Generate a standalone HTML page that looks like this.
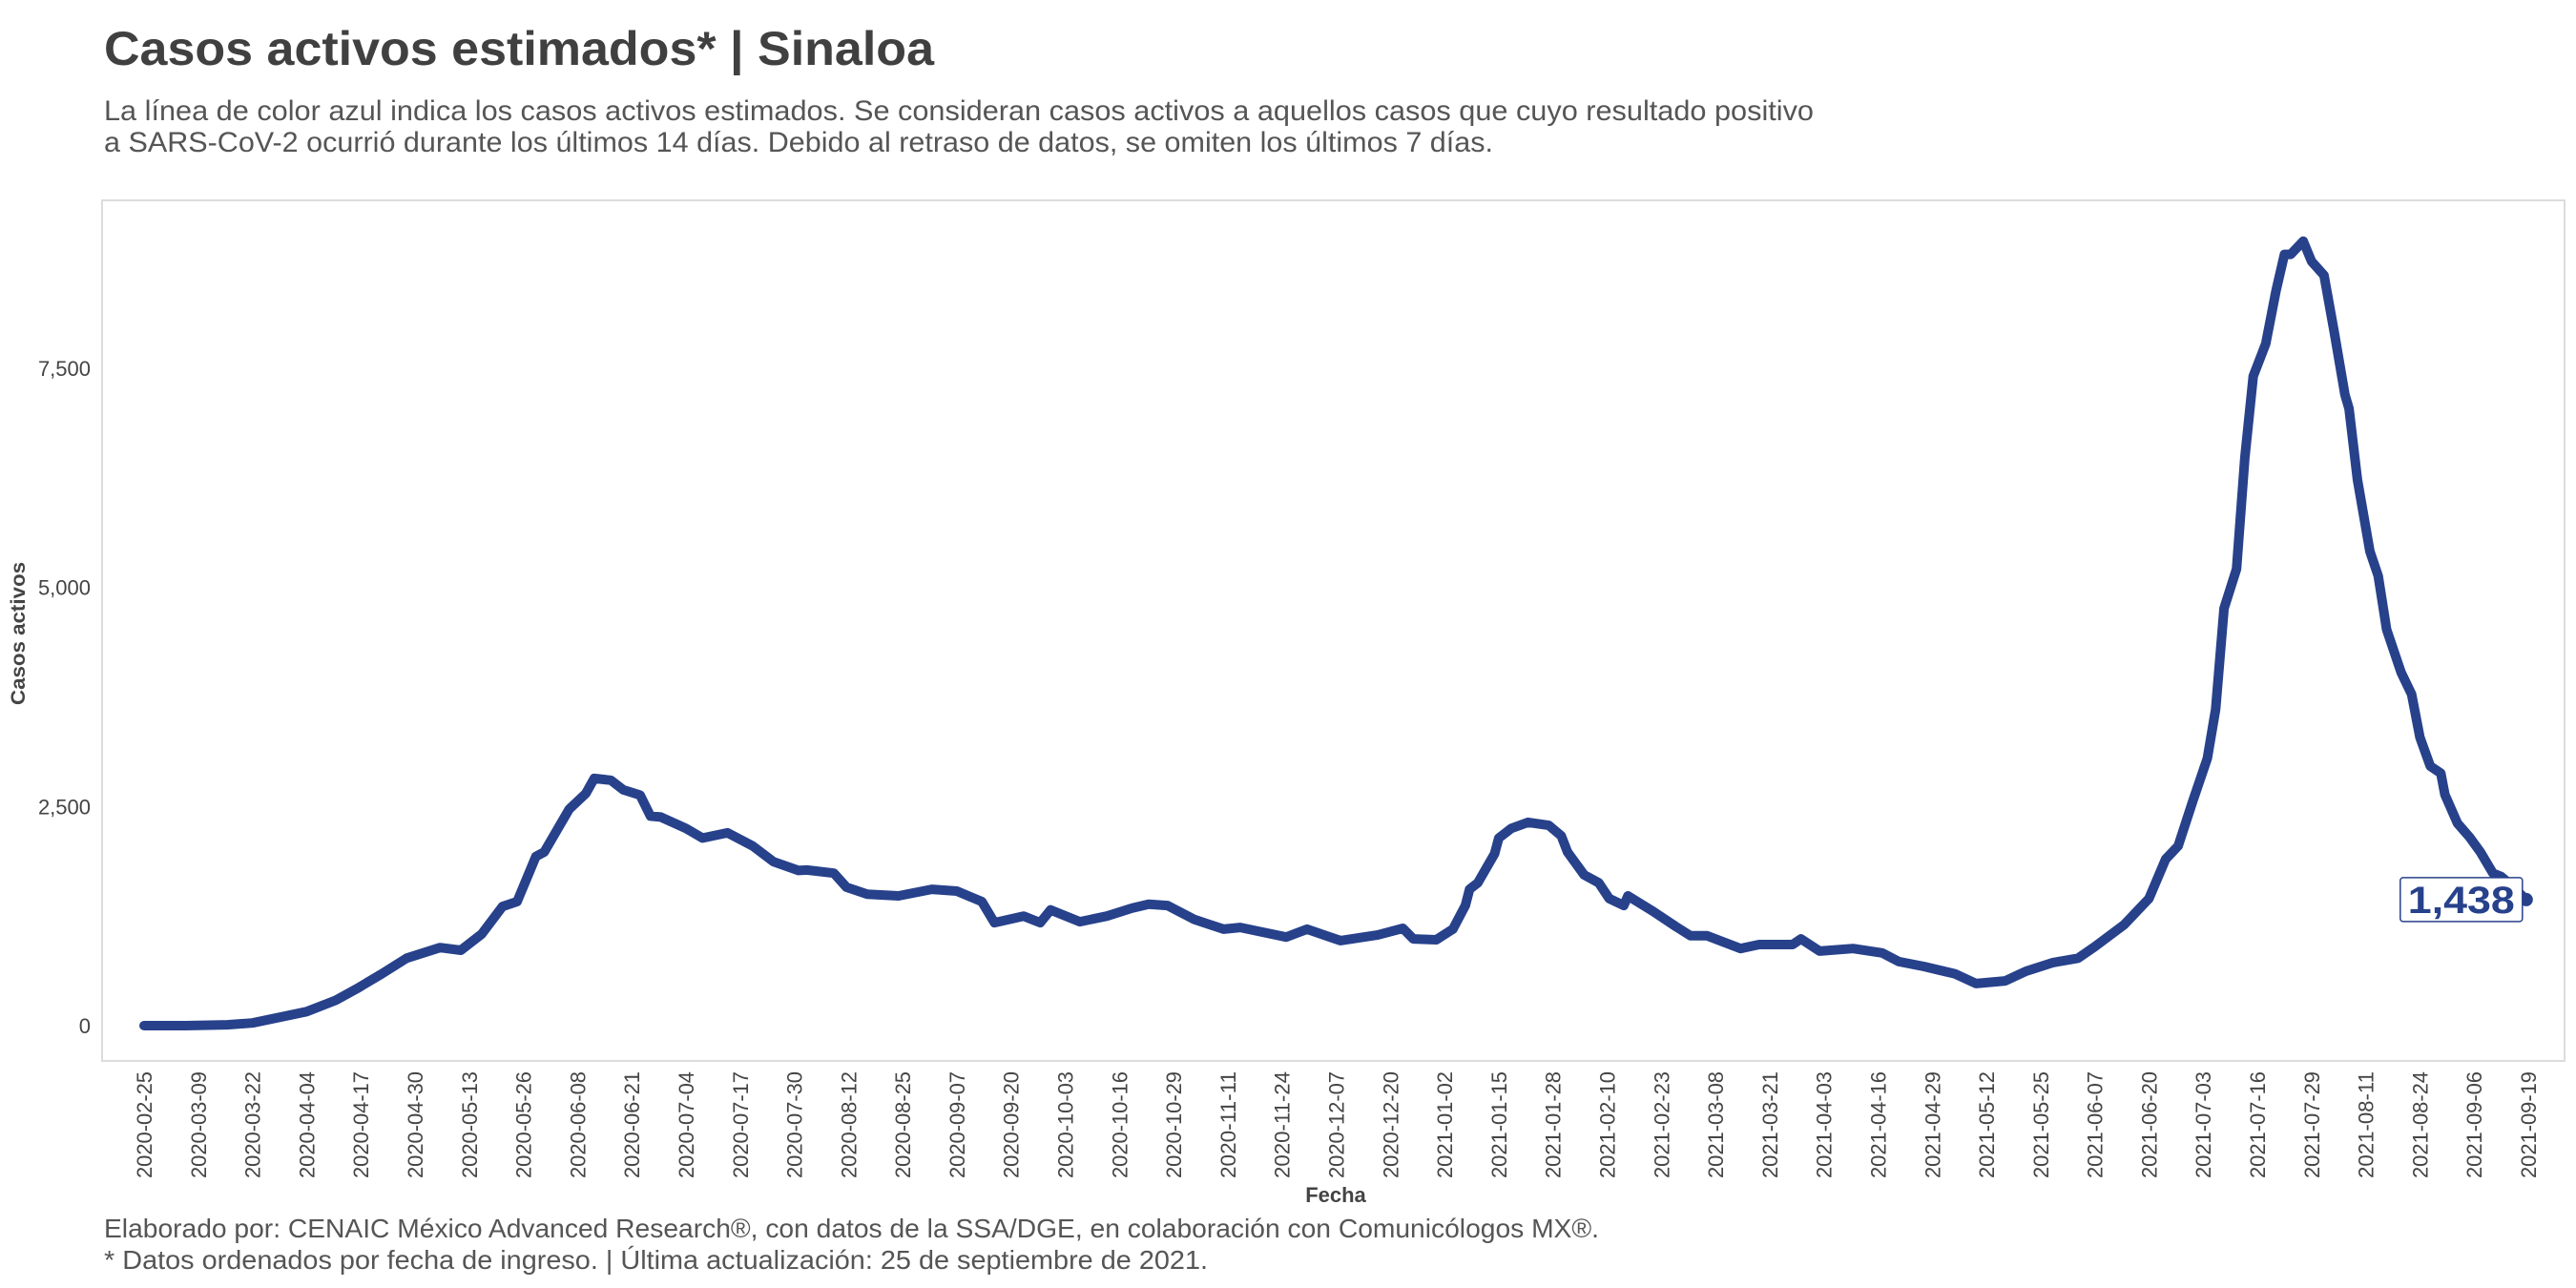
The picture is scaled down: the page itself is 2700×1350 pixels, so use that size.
<!DOCTYPE html>
<html lang="es">
<head>
<meta charset="utf-8">
<style>
  html,body{margin:0;padding:0;background:#fff;}
  svg{display:block;}
  text{font-family:"Liberation Sans",sans-serif;}
</style>
</head>
<body>
<svg id="chart" width="2700" height="1350" viewBox="0 0 2700 1350" xmlns="http://www.w3.org/2000/svg">
  <rect x="0" y="0" width="2700" height="1350" fill="#fff"/>
  <text x="109" y="68" font-size="50" font-weight="bold" fill="#404040" textLength="870" lengthAdjust="spacingAndGlyphs">Casos activos estimados* | Sinaloa</text>
  <text x="109" y="126" font-size="30" fill="#555" textLength="1792" lengthAdjust="spacingAndGlyphs">La línea de color azul indica los casos activos estimados. Se consideran casos activos a aquellos casos que cuyo resultado positivo</text>
  <text x="109" y="159" font-size="30" fill="#555" textLength="1456" lengthAdjust="spacingAndGlyphs">a SARS-CoV-2 ocurrió durante los últimos 14 días. Debido al retraso de datos, se omiten los últimos 7 días.</text>
  <rect x="107" y="210" width="2581" height="902" fill="none" stroke="#dcdcdc" stroke-width="2"/>
  <g id="yaxis"></g>
  <g id="xaxis"></g>
  <g id="series"></g>
  <text transform="translate(26,664) rotate(-90)" text-anchor="middle" font-size="21" font-weight="bold" fill="#444" textLength="150" lengthAdjust="spacingAndGlyphs">Casos activos</text>
  <text x="1400" y="1260" text-anchor="middle" font-size="22" font-weight="bold" fill="#444">Fecha</text>
  <text x="109" y="1297" font-size="28" fill="#555" textLength="1567" lengthAdjust="spacingAndGlyphs">Elaborado por: CENAIC México Advanced Research®, con datos de la SSA/DGE, en colaboración con Comunicólogos MX®.</text>
  <text x="109" y="1330" font-size="28" fill="#555" textLength="1157" lengthAdjust="spacingAndGlyphs">* Datos ordenados por fecha de ingreso. | Última actualización: 25 de septiembre de 2021.</text>
</svg>
<script>
// Days since 2020-02-25
const dayIndex = [0,10,20,26,33,39,46,51,57,63,71,76,81,86,89.5,94,96,102,106,108,112,115,119,121.5,124,130,134,140,146,151,157,159,165.5,168.5,173.5,181,189,195,201,204,211,215,217.5,224.5,231,237,241,245.5,252,259,263,274,279,287,296,302,304.5,310,314,317,318,320,324,325,328,332,337,340,341.5,345.5,349,351.5,355,356,362,367.5,371,375,383,387.5,395.5,397.5,402,410,417,421,427,434.5,439.5,446.5,451.5,458,464,468,475,481,485,488,491.5,495,497,499,502,504,506,509,511.5,513.5,515,518,520,523,525.5,528,529,531,534,536,538,541.5,544,546,548.5,551,552,555,558,560.5,563.5,565.5,567.5,571.5];
const activeCases = [0,0,10,30,100,160,290,420,590,770,890,860,1045,1360,1415,1930,1980,2470,2650,2820,2800,2690,2630,2390,2380,2250,2140,2200,2050,1870,1770,1775,1740,1580,1500,1480,1555,1535,1415,1175,1250,1175,1320,1185,1250,1340,1385,1370,1210,1100,1120,1010,1100,970,1035,1110,990,980,1100,1370,1555,1630,1960,2140,2250,2320,2285,2165,1980,1720,1630,1450,1370,1480,1305,1130,1025,1025,880,925,925,990,850,880,830,730,675,590,480,510,620,720,770,900,1150,1450,1900,2050,2560,3050,3610,4760,5210,6480,7410,7780,8390,8800,8800,8950,8720,8560,7900,7200,7040,6230,5410,5130,4520,4030,3780,3290,2960,2880,2635,2310,2145,1980,1740,1700,1620,1438];
const yTicks = [0,2500,5000,7500];
const yTickLabels = ["0","2,500","5,000","7,500"];
const xTickDays = [];
for (let i = 0; i <= 44; i++) xTickDays.push(i * 13);
const lastLabel = "1,438";

const NS = "http://www.w3.org/2000/svg";
const X0 = 151, PX_PER_DAY = (2650 - 151) / 572;
const Y0 = 1075, PX_PER_UNIT = 689 / 7500;
function xScale(d){ return X0 + d * PX_PER_DAY; }
function yScale(v){ return Y0 - v * PX_PER_UNIT; }
function fmtDate(d){
  const base = Date.UTC(2020,1,25);
  const dt = new Date(base + d*86400000);
  const m = String(dt.getUTCMonth()+1).padStart(2,"0");
  const dd = String(dt.getUTCDate()).padStart(2,"0");
  return dt.getUTCFullYear()+"-"+m+"-"+dd;
}
function mk(tag, attrs){ const e = document.createElementNS(NS, tag); for (const k in attrs) e.setAttribute(k, attrs[k]); return e; }

const yaxis = document.getElementById("yaxis");
yTicks.forEach((v,i)=>{
  const t = mk("text",{x:95,y:yScale(v)+8,"text-anchor":"end","font-size":"22",fill:"#444"});
  
  
  t.textContent = yTickLabels[i];
  yaxis.appendChild(t);
});

const xaxis = document.getElementById("xaxis");
xTickDays.forEach(d=>{
  const x = xScale(d);
  const t = mk("text",{transform:"translate("+(x+8)+",1123) rotate(-90)","text-anchor":"end","font-size":"22",fill:"#444",textLength:"112",lengthAdjust:"spacingAndGlyphs"});
  
  
  t.textContent = fmtDate(d);
  xaxis.appendChild(t);
});

const series = document.getElementById("series");
let dstr = "";
dayIndex.forEach((d,i)=>{ dstr += (i? "L":"M") + xScale(d).toFixed(1) + "," + yScale(activeCases[i]).toFixed(1); });
const path = mk("path",{d:dstr,fill:"none",stroke:"#27418b","stroke-width":"10","stroke-linejoin":"round","stroke-linecap":"round"});


series.appendChild(path);

const lastI = dayIndex.length - 1;
const lx = xScale(dayIndex[lastI]), ly = yScale(activeCases[lastI]);
const dot = mk("circle",{cx:lx,cy:ly,r:7,fill:"#27418b"});


series.appendChild(dot);

const box = mk("rect",{x:lx-132,y:ly-23,width:128,height:46,rx:3,fill:"#fff",stroke:"#27418b","stroke-width":"1.5"});


series.appendChild(box);
const lbl = mk("text",{x:lx-68,y:ly+14,"text-anchor":"middle","font-size":"40","font-weight":"bold",fill:"#27418b",textLength:"112",lengthAdjust:"spacingAndGlyphs"});


lbl.textContent = lastLabel;
series.appendChild(lbl);
</script>
</body>
</html>
